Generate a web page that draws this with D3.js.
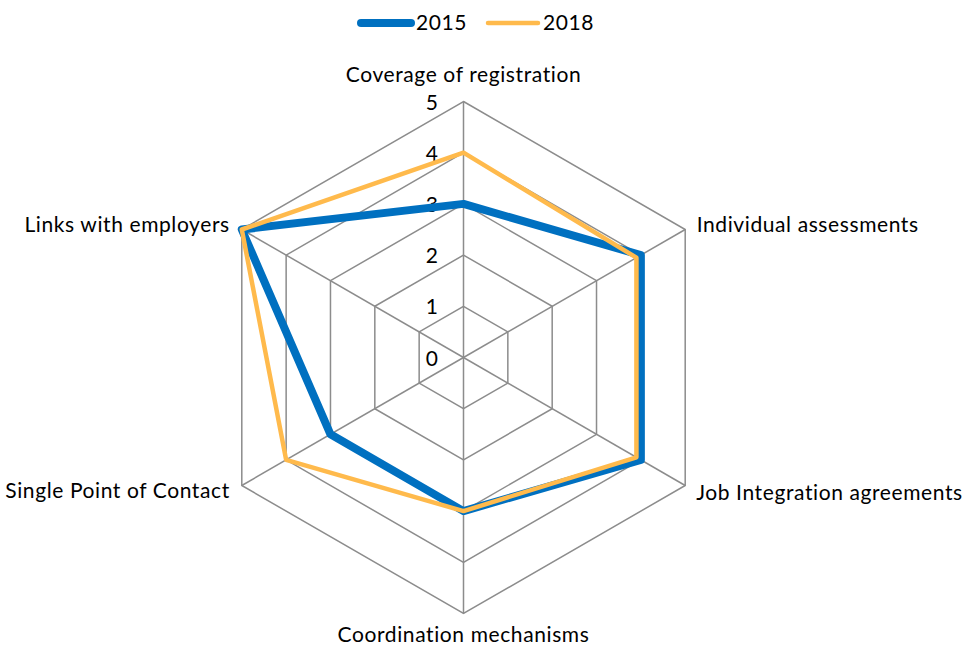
<!DOCTYPE html>
<html>
<head>
<meta charset="utf-8">
<script src="https://cdn.jsdelivr.net/npm/d3@7/dist/d3.min.js"></script>
<style>
  body { margin: 0; background: #fff; }
  text { font-family: Lato, "Open Sans", sans-serif; fill: #000; letter-spacing: 0.6px; }
</style>
</head>
<body>
<script>
var v_Axes     = ["Coverage of registration", "Individual assessments", "Job Integration agreements",
                  "Coordination mechanisms", "Single Point of Contact", "Links with employers"];
var v_Ticks    = [0, 1, 2, 3, 4, 5];
var v_Series   = ["2015", "2018"];
var v_S2015    = [3, 4, 4, 3, 3, 5];
var v_S2018    = [4, 3.9, 3.9, 3, 4, 5];
var v_Colors   = ["#0070C0", "#FFBA4C"];
var v_Widths   = [8, 4.5];

var v_W = 967, v_H = 650;
var v_CX = 463.5, v_CY = 357.5, v_R = 256;

var v_SVG = d3.select("body").append("svg").attr("width", v_W).attr("height", v_H);

var v_RScale = d3.scaleLinear().domain([0, 5]).range([0, v_R]);
var v_Angle  = d3.scaleLinear().domain([0, v_Axes.length]).range([0, 2 * Math.PI]);

function point(i, v)
{
    let a = v_Angle(i) - Math.PI / 2;
    return [v_CX + v_RScale(v) * Math.cos(a), v_CY + v_RScale(v) * Math.sin(a)];
}

// 网格
var v_Grid = v_SVG.append("g");
v_Ticks.slice(1).forEach(function (t)
{
    v_Grid.append("path")
        .attr("d", d3.line()(v_Axes.map(function (d, i) { return point(i, t); })) + "Z")
        .attr("fill", "none").attr("stroke", "#8c8c8c").attr("stroke-width", 1.5);
});
v_Axes.forEach(function (d, i)
{
    let p = point(i, 5);
    v_Grid.append("line").attr("x1", v_CX).attr("y1", v_CY).attr("x2", p[0]).attr("y2", p[1])
        .attr("stroke", "#8c8c8c").attr("stroke-width", 1.5);
});

// 刻度
v_Ticks.forEach(function (t)
{
    v_SVG.append("text").attr("x", v_CX - 25).attr("y", v_CY - v_RScale(t) + 8)
        .attr("text-anchor", "end").attr("font-size", 21).text(t);
});

// 轴标签
var v_Anchor = ["middle", "start", "start", "middle", "end", "end"];
var v_Off    = [[0, -19.5], [11.5, 2], [11, 14.5], [0, 28], [-12, 12.5], [-12, 2]];
v_Axes.forEach(function (d, i)
{
    let p = point(i, 5);
    v_SVG.append("text").attr("x", p[0] + v_Off[i][0]).attr("y", p[1] + v_Off[i][1])
        .attr("text-anchor", v_Anchor[i]).attr("font-size", 21).text(d);
});

// 数据线
[v_S2015, v_S2018].forEach(function (s, k)
{
    v_SVG.append("path")
        .attr("d", d3.line()(s.map(function (v, i) { return point(i, v); })) + "Z")
        .attr("fill", "none").attr("stroke", v_Colors[k]).attr("stroke-width", v_Widths[k])
        .attr("stroke-linejoin", "round");
});

// 图例
var v_LegX = [361, 488];
v_Series.forEach(function (s, k)
{
    v_SVG.append("line").attr("x1", v_LegX[k]).attr("y1", 23).attr("x2", v_LegX[k] + 50).attr("y2", 23)
        .attr("stroke", v_Colors[k]).attr("stroke-width", v_Widths[k]).attr("stroke-linecap", "round");
    v_SVG.append("text").attr("x", v_LegX[k] + 55).attr("y", 30).attr("font-size", 21).text(s);
});
</script>
</body>
</html>
